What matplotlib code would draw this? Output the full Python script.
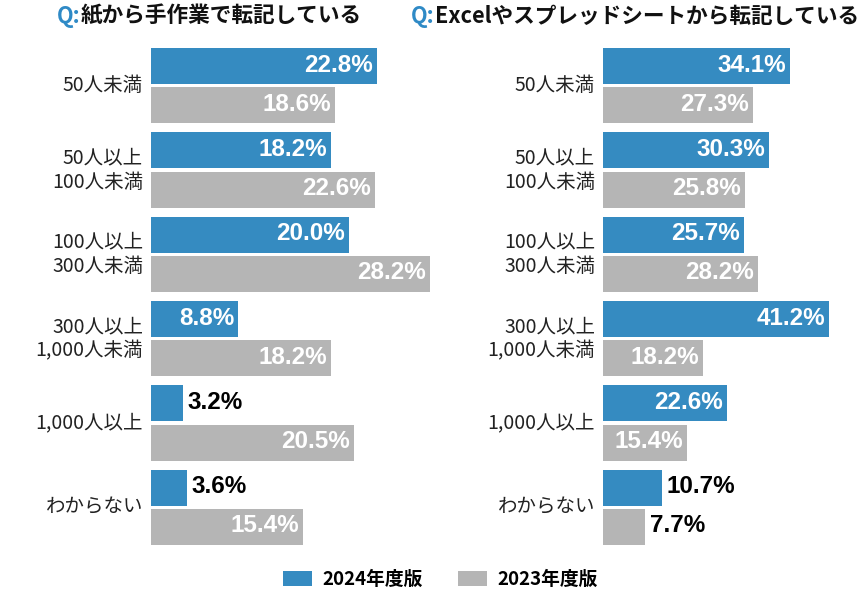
import matplotlib
matplotlib.use("Agg")
import matplotlib.pyplot as plt
from matplotlib.patches import Patch
import numpy as np

plt.rcParams['font.family'] = ['Noto Sans CJK JP', 'DejaVu Sans']

categories = ["50人未満", "50人以上\n100人未満", "100人以上\n300人未満",
              "300人以上\n1,000人未満", "1,000人以上", "わからない"]

# Q: 紙から手作業で転記している
paper_2024 = [22.8, 18.2, 20.0, 8.8, 3.2, 3.6]
paper_2023 = [18.6, 22.6, 28.2, 18.2, 20.5, 15.4]

# Q: Excelやスプレッドシートから転記している
excel_2024 = [34.1, 30.3, 25.7, 41.2, 22.6, 10.7]
excel_2023 = [27.3, 25.8, 28.2, 18.2, 15.4, 7.7]

titles = ["紙から手作業で転記している", "Excelやスプレッドシートから転記している"]
legend_labels = ["2024年度版", "2023年度版"]

blue = "#358BC1"
gray = "#B5B5B5"
q_blue = "#2F8AC6"
num_font = "Liberation Sans"

W, H = 858, 590
fig = plt.figure(figsize=(W / 100, H / 100), dpi=100)

# axes rectangles in pixel units (left, right)
panels = [
    (151, 430, paper_2024, paper_2023),
    (603, 829, excel_2024, excel_2023),
]
top_px, bot_px = 48, 545

y = np.arange(len(categories))
off = 0.232
h = 0.4275

for left, right, v24, v23 in panels:
    ax = fig.add_axes([left / W, (H - bot_px) / H, (right - left) / W, (bot_px - top_px) / H])
    xmax = max(max(v24), max(v23))
    ax.barh(y - off, v24, height=h, color=blue)
    ax.barh(y + off, v23, height=h, color=gray)
    ax.set_xlim(0, xmax)
    ax.set_ylim(len(categories) - 1 + 0.446, -0.446)
    ax.axis("off")

    for vals, yy in ((v24, y - off), (v23, y + off)):
        for v, yc in zip(vals, yy):
            label = f"{v:.1f}%"
            if v / xmax > 0.28:
                ax.annotate(label, (v, yc), xytext=(-4, 1), textcoords="offset pixels",
                            ha="right", va="center", color="white", fontsize=17.5,
                            fontweight="bold", family=num_font)
            else:
                ax.annotate(label, (v, yc), xytext=(5, 1), textcoords="offset pixels",
                            ha="left", va="center", color="black", fontsize=17.5,
                            fontweight="bold", family=num_font)

    for cat, yc in zip(categories, y):
        ax.annotate(cat, (0, yc), xytext=(-8, 0), textcoords="offset pixels",
                    ha="right", va="center", fontsize=14, linespacing=1.2,
                    color="#222222")

# titles: blue "Q:" followed by black text
fig.canvas.draw()
renderer = fig.canvas.get_renderer()
for x_px, title in zip([57, 411], titles):
    q = fig.text(x_px / W, 1 - 16 / H, "Q:", color=q_blue, fontsize=15.6,
                 fontweight="bold", ha="left", va="center")
    bb = q.get_window_extent(renderer)
    fig.text(bb.x1 / W, 1 - 16 / H, title, color="#111111", fontsize=15.6,
             fontweight="bold", ha="left", va="center")

handles = [Patch(facecolor=blue), Patch(facecolor=gray)]
leg = fig.legend(handles, legend_labels, loc="center", bbox_to_anchor=(0.513, 0.018),
                 ncol=2, frameon=False, fontsize=13.5, handlelength=1.55, handleheight=0.8,
                 handletextpad=0.55, columnspacing=1.9, borderpad=0)
for t in leg.get_texts():
    t.set_fontweight("bold")

fig.savefig("out.png", dpi=100)
